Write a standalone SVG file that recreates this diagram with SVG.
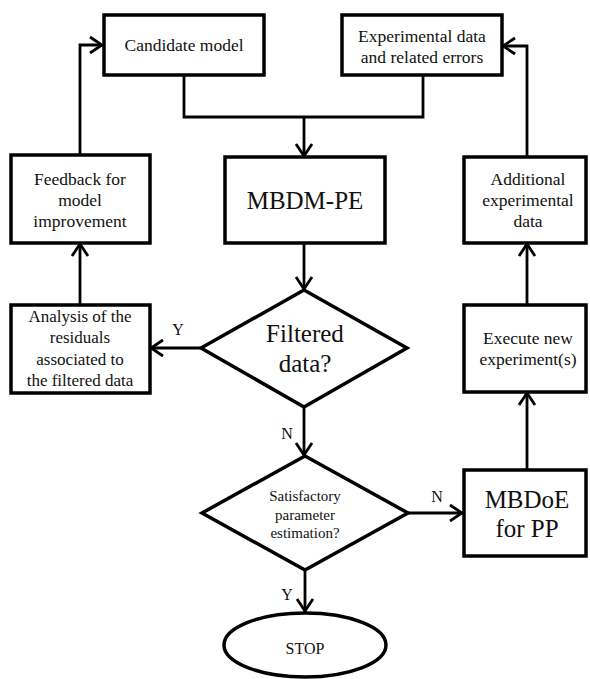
<svg xmlns="http://www.w3.org/2000/svg" width="590" height="679" viewBox="0 0 590 679" font-family="'Liberation Serif', 'Times New Roman', 'DejaVu Serif', serif">
<style>
.box{fill:#fff;stroke:#000;stroke-width:3.5}
.con{fill:none;stroke:#000;stroke-width:2.8}
text{font-family:'Liberation Serif','Times New Roman','DejaVu Serif',serif;fill:#111;text-anchor:middle}
.t{font-size:17.5px}
.big{font-size:25px}
.sm{font-size:15px}
.lbl{font-size:16px}
</style>
<defs>
<marker id="ah" markerUnits="userSpaceOnUse" markerWidth="16" markerHeight="20" viewBox="-2 -2 16 20" refX="12" refY="8" orient="auto">
<path d="M0,0 L12,8 L0,16" fill="none" stroke="#000" stroke-width="2.8"/>
</marker>
</defs>
<g id="connectors">
<path class="con" d="M184,75 V117 H423 V75"/>
<path class="con" d="M304,117 V156" marker-end="url(#ah)"/>
<path class="con" d="M80,155 V45 H102" marker-end="url(#ah)"/>
<path class="con" d="M527,157 V46 H503" marker-end="url(#ah)"/>
<path class="con" d="M304,243 V289" marker-end="url(#ah)"/>
<path class="con" d="M80,305 V244" marker-end="url(#ah)"/>
<path class="con" d="M201,348 H151" marker-end="url(#ah)"/>
<path class="con" d="M304,407 V455" marker-end="url(#ah)"/>
<path class="con" d="M408,513 H462" marker-end="url(#ah)"/>
<path class="con" d="M527,470 V393" marker-end="url(#ah)"/>
<path class="con" d="M527,305 V244" marker-end="url(#ah)"/>
<path class="con" d="M305,570 V611" marker-end="url(#ah)"/>
<text class="lbl" x="178" y="335">Y</text>
<text class="lbl" x="287" y="439">N</text>
<text class="lbl" x="437" y="502">N</text>
<text class="lbl" x="287" y="600">Y</text>
</g>
<g id="candidate">
<rect class="box" x="104" y="15" width="160" height="60"/>
<text class="t" x="184" y="51">Candidate model</text>
</g>
<g id="experimental">
<rect class="box" x="342" y="15" width="160" height="60"/>
<text class="t" x="422" y="42">Experimental data</text>
<text class="t" x="422" y="63">and related errors</text>
</g>
<g id="mbdm-pe">
<rect class="box" x="225" y="157" width="160" height="86"/>
<text class="big" x="305" y="209">MBDM-PE</text>
</g>
<g id="feedback">
<rect class="box" x="11" y="155" width="139" height="88"/>
<text class="t" x="80" y="185">Feedback for</text>
<text class="t" x="80" y="206">model</text>
<text class="t" x="80" y="227">improvement</text>
</g>
<g id="additional">
<rect class="box" x="464" y="157" width="122" height="86"/>
<text class="t" x="528" y="185">Additional</text>
<text class="t" x="528" y="206">experimental</text>
<text class="t" x="528" y="227">data</text>
</g>
<g id="analysis">
<rect class="box" x="11" y="305" width="139" height="88"/>
<text class="t" x="80" y="322" style="font-size:17px">Analysis of the</text>
<text class="t" x="80" y="343" style="font-size:17px">residuals</text>
<text class="t" x="80" y="365" style="font-size:17px">associated to</text>
<text class="t" x="80" y="386" style="font-size:17px">the filtered data</text>
</g>
<g id="filtered">
<polygon class="box" points="304,290 407,348 304,407 201,348"/>
<text class="big" x="305" y="342">Filtered</text>
<text class="big" x="305" y="372">data?</text>
</g>
<g id="execute">
<rect class="box" x="464" y="305" width="122" height="87"/>
<text class="t" x="528" y="344">Execute new</text>
<text class="t" x="528" y="365">experiment(s)</text>
</g>
<g id="satisfactory">
<polygon class="box" points="305,456 408,513 305,570 202,513"/>
<text class="sm" x="305" y="501">Satisfactory</text>
<text class="sm" x="305" y="520">parameter</text>
<text class="sm" x="305" y="538">estimation?</text>
</g>
<g id="mbdoe">
<rect class="box" x="464" y="470" width="122" height="86"/>
<text class="big" x="527" y="508">MBDoE</text>
<text class="big" x="527" y="537">for PP</text>
</g>
<g id="stop">
<ellipse class="box" cx="305" cy="645" rx="81" ry="32"/>
<text class="t" x="305" y="654" style="font-size:16px">STOP</text>
</g>
</svg>
